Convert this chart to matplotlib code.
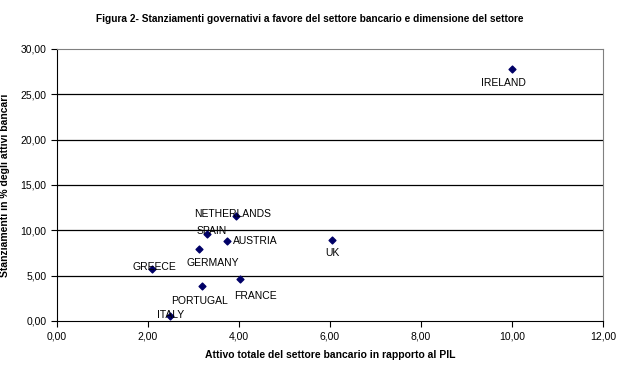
import matplotlib.pyplot as plt
from matplotlib.ticker import FuncFormatter

plt.rcParams['font.family'] = ['Liberation Sans', 'DejaVu Sans']

paesi = ['NETHERLANDS', 'SPAIN', 'AUSTRIA', 'GERMANY', 'GREECE',
         'FRANCE', 'PORTUGAL', 'ITALY', 'UK', 'IRELAND']
attivo = [3.93, 3.30, 3.74, 3.11, 2.09, 4.03, 3.19, 2.49, 6.05, 10.0]
stanziamenti = [11.6, 9.6, 8.8, 7.9, 5.7, 4.6, 3.9, 0.55, 8.9, 27.8]
# label offsets (points) and alignment
offs = {'NETHERLANDS': (-2, 1, 'center'), 'SPAIN': (3, 2, 'center'),
        'AUSTRIA': (4, 0, 'left'), 'GERMANY': (10, -10, 'center'),
        'GREECE': (1.5, 2, 'center'), 'FRANCE': (11, -12, 'center'),
        'PORTUGAL': (-2, -11, 'center'), 'ITALY': (0, 0.5, 'center'),
        'UK': (0, -9.5, 'center'), 'IRELAND': (-6.5, -10, 'center')}

fig = plt.figure(figsize=(6.2, 3.71), dpi=100)
ax = fig.add_axes([0.092, 0.1348, 0.8806, 0.7332])

ax.scatter(attivo, stanziamenti, marker='D', s=12, color='#000066', zorder=3)
for p, x, y in zip(paesi, attivo, stanziamenti):
    dx, dy, ha = offs[p]
    ax.annotate(p, (x, y), xytext=(dx, dy), textcoords='offset points',
                ha=ha, va='center', fontsize=7.5)

ax.set_xlim(0, 12)
ax.set_ylim(0, 30)
ax.set_xticks(range(0, 13, 2))
ax.set_yticks(range(0, 31, 5))
fmt = FuncFormatter(lambda v, pos: f'{v:.2f}'.replace('.', ','))
ax.xaxis.set_major_formatter(fmt)
ax.yaxis.set_major_formatter(fmt)
ax.tick_params(labelsize=7.5, length=4, direction='out', width=0.8)
for y in range(5, 30, 5):
    ax.axhline(y, color='black', lw=0.9, zorder=1)
for s in ['top', 'right']:
    ax.spines[s].set_color('#808080')
for s in ['left', 'bottom']:
    ax.spines[s].set_color('black')

ax.set_xlabel('Attivo totale del settore bancario in rapporto al PIL',
              fontsize=7.5, fontweight='bold', labelpad=6)
ax.set_ylabel('Stanziamenti in % degli attivi bancari',
              fontsize=7.5, fontweight='bold', labelpad=8)
fig.text(0.5, 0.948, 'Figura 2- Stanziamenti governativi a favore del settore bancario e dimensione del settore',
         ha='center', va='center', fontsize=7.3, fontweight='bold')

fig.savefig('out.png', dpi=100)
